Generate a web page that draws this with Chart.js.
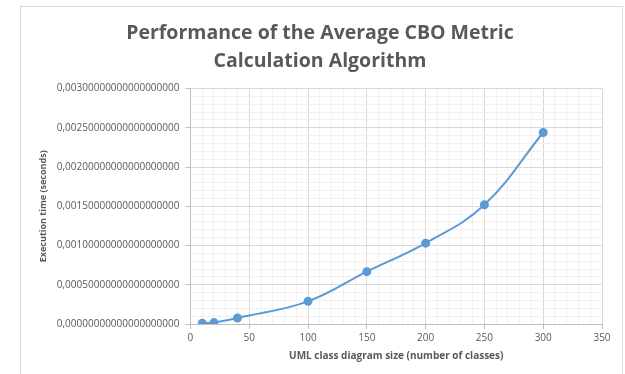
<!DOCTYPE html>
<html>
<head>
<meta charset="utf-8">
<script src="https://cdn.jsdelivr.net/npm/chart.js@4"></script>
<style>
    body { margin: 0; background: #fff; }
    #frame {
        position: absolute;
        left: 20px;
        top: 6px;
        width: 601px;
        height: 380px;
        border: 1px solid #d9d9d9;
        border-bottom: none;
        background: #fff;
    }
    #chart { display: block; }
</style>
</head>
<body>
<div id="frame">
    <canvas id="chart" width="601" height="368"></canvas>
</div>
<script>
// Data
const diagramSizes = [10, 20, 40, 100, 150, 200, 250, 300];
const executionTimes = [0.00001, 0.000018, 0.000077, 0.000289, 0.000667, 0.00103, 0.00152, 0.00244];

const xTickLabels = [0, 50, 100, 150, 200, 250, 300, 350];
const yTickLabels = [0, 0.0005, 0.001, 0.0015, 0.002, 0.0025, 0.003];
const yDecimals = 20;

const textColor = '#595959';
const lineColor = '#5b9bd5';

// Format like the Excel axis: comma decimal separator, fixed decimals
function formatY(value) {
    const n = Math.round(value * 10000);
    return '0,' + String(n).padStart(4, '0') + '0'.repeat(yDecimals - 4);
}

function isMajorX(value) {
    return xTickLabels.includes(Math.round(value));
}

function isMajorY(value) {
    const n = Math.round(value * 10000);
    return yTickLabels.some(t => Math.round(t * 10000) === n);
}

const ctx = document.getElementById('chart');

new Chart(ctx, {
    type: 'line',
    data: {
        datasets: [{
            label: 'Execution time',
            data: diagramSizes.map((x, i) => ({ x: x, y: executionTimes[i] })),
            borderColor: lineColor,
            backgroundColor: lineColor,
            borderWidth: 2,
            pointRadius: 3.5,
            pointHoverRadius: 3.5,
            tension: 0.4,
            fill: false
        }]
    },
    options: {
        responsive: false,
        animation: false,
        layout: {
            padding: { left: 17, right: 20, top: 0, bottom: 13 }
        },
        plugins: {
            legend: { display: false },
            tooltip: { enabled: false },
            title: {
                display: true,
                text: ['Performance of the Average CBO Metric', 'Calculation Algorithm'],
                color: textColor,
                font: { family: 'Open Sans', size: 19.5, weight: 'bold', lineHeight: 1.45 },
                padding: { top: 12, bottom: 13 }
            }
        },
        scales: {
            x: {
                type: 'linear',
                min: 0,
                max: 350,
                ticks: {
                    stepSize: 10,
                    autoSkip: false,
                    maxRotation: 0,
                    color: textColor,
                    font: { family: 'Open Sans', size: 10 },
                    padding: 3,
                    callback: v => isMajorX(v) ? String(v) : ''
                },
                grid: {
                    color: c => isMajorX(c.tick.value) ? '#d9d9d9' : '#f0f0f0',
                    tickColor: c => isMajorX(c.tick.value) ? '#bfbfbf' : 'rgba(0,0,0,0)',
                    tickLength: 5
                },
                border: { color: '#bfbfbf' },
                title: {
                    display: true,
                    text: 'UML class diagram size (number of classes)',
                    color: textColor,
                    font: { family: 'Open Sans', size: 10, weight: 'bold' },
                    padding: { top: 3, bottom: 0 }
                }
            },
            y: {
                min: 0,
                max: 0.003,
                ticks: {
                    stepSize: 0.0001,
                    autoSkip: false,
                    color: textColor,
                    font: { family: 'Open Sans', size: 10 },
                    padding: 6,
                    callback: v => isMajorY(v) ? formatY(v) : ''
                },
                grid: {
                    color: c => isMajorY(c.tick.value) ? '#d9d9d9' : '#f0f0f0',
                    tickColor: c => isMajorY(c.tick.value) ? '#bfbfbf' : 'rgba(0,0,0,0)',
                    tickLength: 5
                },
                border: { color: '#bfbfbf' },
                title: {
                    display: true,
                    text: 'Execution time (seconds)',
                    color: textColor,
                    font: { family: 'Open Sans', size: 9, weight: 'bold' },
                    padding: { top: 0, bottom: 2 }
                }
            }
        }
    }
});
</script>
</body>
</html>
